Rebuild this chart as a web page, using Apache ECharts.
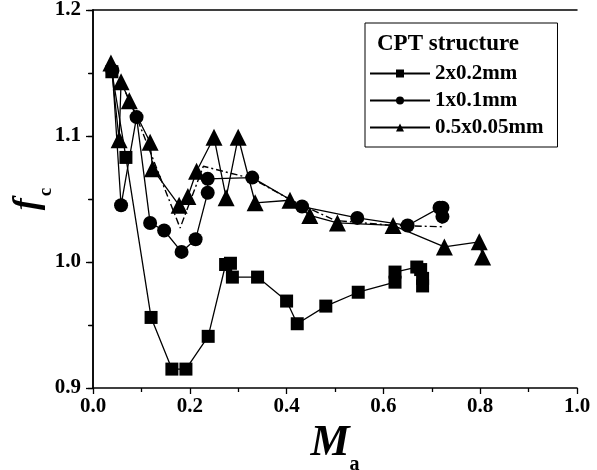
<!DOCTYPE html>
<html>
<head>
<meta charset="utf-8">
<script src="https://cdn.jsdelivr.net/npm/echarts@6/dist/echarts.min.js"></script>
<style>
  html, body { margin: 0; padding: 0; background: #fff; }
  #chart { width: 597px; height: 470px; }
</style>
</head>
<body>
<div id="chart"></div>
<script>
// 2x0.2mm (squares)
const maSquare = [0.039, 0.068, 0.120, 0.163, 0.192, 0.238, 0.274, 0.284, 0.288, 0.340, 0.400, 0.422, 0.481, 0.548, 0.624, 0.624, 0.669, 0.677, 0.681, 0.681];
const fcSquare = [1.151, 1.083, 0.956, 0.915, 0.915, 0.941, 0.998, 0.999, 0.988, 0.988, 0.969, 0.951, 0.965, 0.976, 0.984, 0.992, 0.996, 0.994, 0.987, 0.981];
// 1x0.1mm (circles)
const maCircle = [0.040, 0.058, 0.090, 0.118, 0.147, 0.183, 0.212, 0.237, 0.237, 0.329, 0.432, 0.546, 0.650, 0.716, 0.722, 0.722];
const fcCircle = [1.152, 1.045, 1.115, 1.031, 1.025, 1.008, 1.018, 1.055, 1.066, 1.067, 1.044, 1.035, 1.029, 1.043, 1.043, 1.036];
// 0.5x0.05mm (triangles)
const maTriangle = [0.037, 0.054, 0.058, 0.075, 0.118, 0.123, 0.178, 0.196, 0.214, 0.250, 0.275, 0.300, 0.335, 0.407, 0.448, 0.505, 0.620, 0.726, 0.798, 0.805];
const fcTriangle = [1.158, 1.097, 1.143, 1.128, 1.095, 1.074, 1.045, 1.052, 1.072, 1.099, 1.051, 1.099, 1.047, 1.049, 1.037, 1.031, 1.029, 1.012, 1.016, 1.004];
// dash-dot guide line (no markers)
const maDash = [0.037, 0.058, 0.075, 0.090, 0.180, 0.228, 0.330, 0.410, 0.500, 0.620, 0.720, 0.722];
const fcDash = [1.155, 1.143, 1.128, 1.115, 1.027, 1.076, 1.066, 1.049, 1.033, 1.029, 1.028, 1.036];

const seriesNames = ['2x0.2mm', '1x0.1mm', '0.5x0.05mm'];
const legendTitle = 'CPT structure';

const zip = (xs, ys) => xs.map((x, i) => [x, ys[i]]);
const font = 'Liberation Serif, Times New Roman, serif';

const chart = echarts.init(document.getElementById('chart'));

const lineSeries = (name, xs, ys, symbol, size) => ({
    name: name,
    type: 'line',
    data: zip(xs, ys),
    symbol: symbol,
    symbolSize: size,
    showAllSymbol: true,
    lineStyle: {color: '#000', width: 1.3},
    itemStyle: {color: '#000'},
    z: 3,
    animation: false
});

const option = {
    backgroundColor: '#fff',
    grid: {left: 93, right: 20, top: 10, bottom: 82, containLabel: false, outerBoundsMode: 'none'},
    legend: {
        data: seriesNames,
        orient: 'vertical',
        left: 365,
        top: 23,
        padding: [40, 14, 9, 4],
        itemGap: 6,
        itemWidth: 60,
        itemHeight: 10,
        borderColor: '#000',
        borderWidth: 1,
        textStyle: {fontFamily: font, fontWeight: 'bold', fontSize: 21, color: '#000'}
    },
    graphic: [{
        type: 'text',
        left: 377,
        top: 33,
        style: {text: legendTitle, font: 'bold 23px ' + font, fill: '#000'}
    }],
    xAxis: [{
        type: 'value',
        min: 0,
        max: 1,
        interval: 0.2,
        position: 'bottom',
        name: '{m|M}{s|a}',
        nameLocation: 'middle',
        nameGap: 17,
        nameTextStyle: {
            verticalAlign: 'top',
            rich: {
                m: {fontFamily: font, fontStyle: 'italic', fontWeight: 'bold', fontSize: 44, color: '#000', verticalAlign: 'top', padding: [0, 0, 9, 0]},
                s: {fontFamily: font, fontWeight: 'bold', fontSize: 20, color: '#000', verticalAlign: 'bottom'}
            }
        },
        axisLine: {show: true, lineStyle: {color: '#000', width: 1.5}},
        axisTick: {show: true, length: 6, lineStyle: {color: '#000', width: 1.3}},
        minorTick: {show: true, splitNumber: 2, length: 4, lineStyle: {color: '#000', width: 1.3}},
        axisLabel: {fontFamily: font, fontWeight: 'bold', fontSize: 21, color: '#000', margin: 8,
            formatter: v => v.toFixed(1)},
        splitLine: {show: false}
    }, {
        type: 'value',
        min: 0,
        max: 1,
        interval: 0.2,
        position: 'top',
        axisLine: {show: true, lineStyle: {color: '#000', width: 1.5}},
        axisTick: {show: false},
        axisLabel: {show: false},
        splitLine: {show: false}
    }],
    yAxis: [{
        type: 'value',
        min: 0.9,
        max: 1.2,
        interval: 0.1,
        position: 'left',
        name: '{m|f}{s|c}',
        nameLocation: 'middle',
        nameGap: 37,
        nameMoveOverlap: false,
        nameTextStyle: {
            verticalAlign: 'bottom',
            rich: {
                m: {fontFamily: font, fontStyle: 'italic', fontWeight: 'bold', fontSize: 36, color: '#000', verticalAlign: 'top', padding: [0, 2, 10, 0]},
                s: {fontFamily: font, fontWeight: 'bold', fontSize: 19, color: '#000', verticalAlign: 'bottom'}
            }
        },
        axisLine: {show: true, lineStyle: {color: '#000', width: 1.5}},
        axisTick: {show: true, length: 7, lineStyle: {color: '#000', width: 1.3}},
        minorTick: {show: true, splitNumber: 2, length: 4, lineStyle: {color: '#000', width: 1.3}},
        axisLabel: {fontFamily: font, fontWeight: 'bold', fontSize: 21, color: '#000', margin: 12,
            formatter: v => v.toFixed(1)},
        splitLine: {show: false}
    }, {
        type: 'value',
        min: 0.9,
        max: 1.2,
        interval: 0.1,
        position: 'right',
        axisLine: {show: true, lineStyle: {color: '#000', width: 1.5}},
        axisTick: {show: true, inside: true, length: 5, lineStyle: {color: '#000', width: 1.3}},
        minorTick: {show: true, splitNumber: 2, length: 5, lineStyle: {color: '#000', width: 1.3}},
        axisLabel: {show: false},
        splitLine: {show: false}
    }],
    series: [
        {
            name: 'guide',
            type: 'line',
            data: zip(maDash, fcDash),
            symbol: 'none',
            lineStyle: {color: '#000', width: 1.4, type: [7, 3, 2, 3]},
            z: 2,
            animation: false
        },
        lineSeries(seriesNames[0], maSquare, fcSquare, 'rect', 13),
        lineSeries(seriesNames[1], maCircle, fcCircle, 'circle', 14),
        lineSeries(seriesNames[2], maTriangle, fcTriangle, 'triangle', 17)
    ]
};

chart.setOption(option);
</script>
</body>
</html>
